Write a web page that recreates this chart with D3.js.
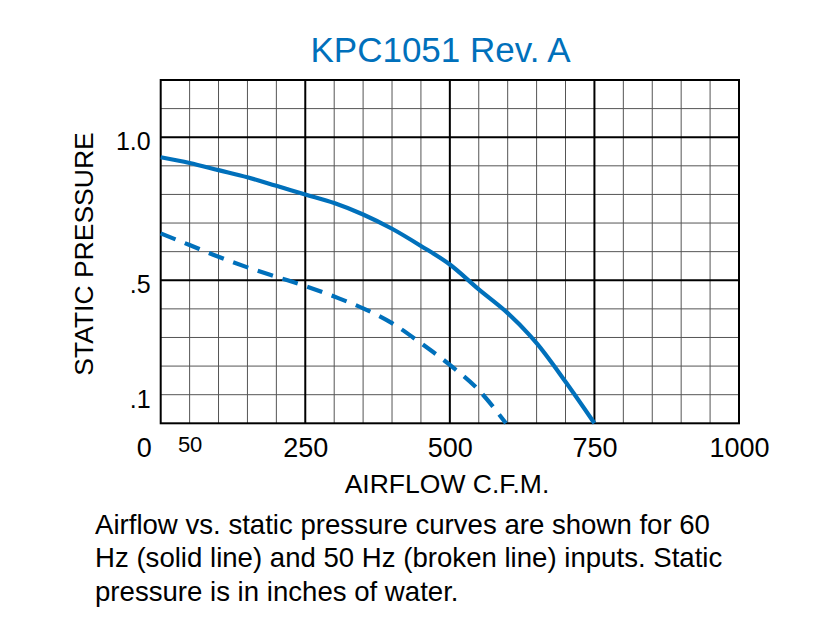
<!DOCTYPE html>
<meta charset="utf-8">
<style>
body { margin: 0; background: #fff; }
text { font-family: "Liberation Sans", Arial, sans-serif; }
.axis .domain { display: none; }
</style>
<svg width="840" height="641" id="chart"></svg>
<script src="https://d3js.org/d3.v7.min.js"></script>
<script>
// 60 Hz curve (solid)
var cfm60 = [0, 50, 100, 150, 200, 250, 300, 350, 400, 450, 500, 550, 600, 637, 650, 700, 750];
var sp60  = [0.93, 0.91, 0.885, 0.86, 0.83, 0.80, 0.77, 0.73, 0.68, 0.62, 0.555, 0.468, 0.385, 0.31, 0.28, 0.145, 0];

// 50 Hz curve (broken)
var cfm50 = [0, 50, 100, 150, 200, 250, 300, 350, 400, 450, 500, 550, 597];
var sp50  = [0.664, 0.623, 0.582, 0.545, 0.512, 0.48, 0.443, 0.402, 0.35, 0.28, 0.204, 0.116, 0];

var xTicks = [0, 50, 250, 500, 750, 1000];
var yTicks = [0.1, 0.5, 1.0];
var yTickLabels = [".1", ".5", "1.0"];

var captionLines = [
  "Airflow vs. static pressure curves are shown for 60",
  "Hz (solid line) and 50 Hz (broken line) inputs. Static",
  "pressure is in inches of water."
];

var blue = "#0070bb";

var svg = d3.select("#chart"),
    margin = {top: 80, left: 160.7},
    width = 578.3,
    height = 343.3,
    g = svg.append("g").attr("transform", "translate(" + margin.left + "," + margin.top + ")");

var x = d3.scaleLinear().domain([0, 1000]).range([0, width]);
var y = d3.scaleLinear().domain([0, 1.2]).range([height, 0]);

// grid: minor every 50 cfm / 0.1, major every 250 cfm / 0.5
var minorX = d3.range(50, 1000, 50).filter(function(d) { return d % 250 !== 0; });
var majorX = [250, 500, 750];
var minorY = d3.range(1, 12).map(function(d) { return d / 10; }).filter(function(d) { return Math.abs(d - 0.5) > 1e-6 && Math.abs(d - 1.0) > 1e-6; });
var majorY = [0.5, 1.0];

g.append("g").selectAll("line").data(minorX).enter().append("line")
    .attr("x1", x).attr("x2", x).attr("y1", 0).attr("y2", height)
    .attr("stroke", "#555").attr("stroke-width", 1);
g.append("g").selectAll("line").data(minorY).enter().append("line")
    .attr("y1", y).attr("y2", y).attr("x1", 0).attr("x2", width)
    .attr("stroke", "#555").attr("stroke-width", 1);
g.append("g").selectAll("line").data(majorX).enter().append("line")
    .attr("x1", x).attr("x2", x).attr("y1", 0).attr("y2", height)
    .attr("stroke", "#000").attr("stroke-width", 2);
g.append("g").selectAll("line").data(majorY).enter().append("line")
    .attr("y1", y).attr("y2", y).attr("x1", 0).attr("x2", width)
    .attr("stroke", "#000").attr("stroke-width", 2);

g.append("rect")
    .attr("width", width).attr("height", height)
    .attr("fill", "none").attr("stroke", "#000").attr("stroke-width", 2);

// curves
var line = d3.line()
    .x(function(d) { return x(d[0]); })
    .y(function(d) { return y(d[1]); })
    .curve(d3.curveMonotoneX);

g.append("path")
    .datum(d3.zip(cfm60, sp60))
    .attr("d", line)
    .attr("fill", "none").attr("stroke", blue).attr("stroke-width", 4.2);

g.append("path")
    .datum(d3.zip(cfm50, sp50))
    .attr("d", line)
    .attr("fill", "none").attr("stroke", blue).attr("stroke-width", 4.2)
    .attr("stroke-dasharray", "16,10");

// x axis
var xAxis = g.append("g")
    .attr("class", "axis")
    .attr("transform", "translate(0," + height + ")")
    .call(d3.axisBottom(x).tickValues(xTicks).tickSize(0).tickPadding(0)
      .tickFormat(d3.format("d")));
xAxis.selectAll("text")
    .attr("fill", "#000")
    .attr("font-size", function(d) { return d === 50 ? 22 : 27; })
    .attr("dy", null)
    .attr("y", function(d) { return d === 50 ? 29 : 34; })
    .attr("x", function(d) { return d === 0 ? -17 : 0; });

// y axis
var yAxis = g.append("g")
    .attr("class", "axis")
    .call(d3.axisLeft(y).tickValues(yTicks).tickSize(0).tickPadding(10)
      .tickFormat(function(d, i) { return yTickLabels[i]; }));
yAxis.selectAll("text")
    .attr("fill", "#000")
    .attr("font-size", 25)
    .attr("dy", "0.5em");

// title
svg.append("text")
    .attr("x", 440.5).attr("y", 62)
    .attr("text-anchor", "middle")
    .attr("font-size", 35)
    .attr("fill", blue)
    .text("KPC1051 Rev. A");

// axis titles
svg.append("text")
    .attr("x", 447).attr("y", 493)
    .attr("text-anchor", "middle")
    .attr("font-size", 26.5)
    .attr("fill", "#000")
    .text("AIRFLOW C.F.M.");

svg.append("text")
    .attr("transform", "translate(93,254) rotate(-90)")
    .attr("text-anchor", "middle")
    .attr("font-size", 26.5)
    .attr("fill", "#000")
    .text("STATIC PRESSURE");

// caption
svg.append("g").selectAll("text").data(captionLines).enter().append("text")
    .attr("x", 95)
    .attr("y", function(d, i) { return 534 + i * 33.4; })
    .attr("font-size", 27.6)
    .attr("fill", "#000")
    .text(function(d) { return d; });
</script>
